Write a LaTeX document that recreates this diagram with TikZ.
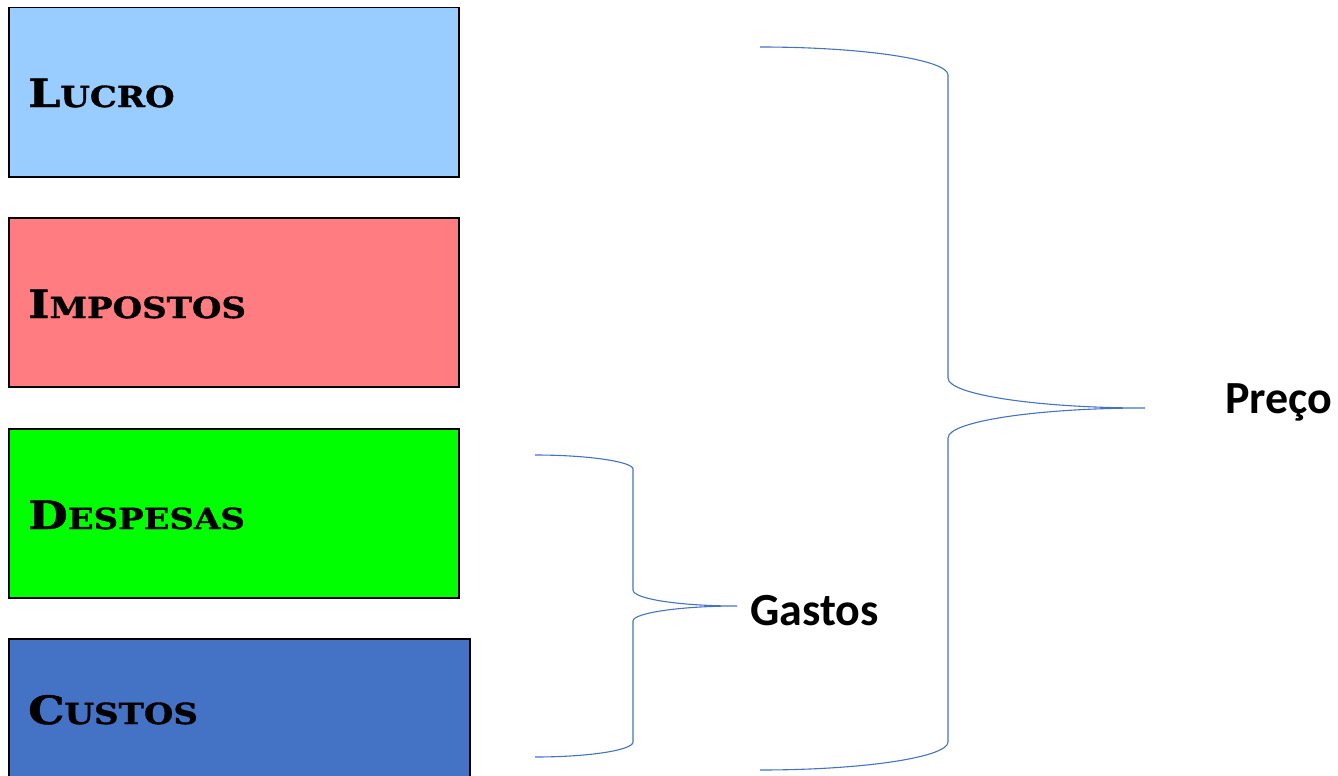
\documentclass[tikz,border=0pt]{standalone}
\usepackage{fontspec}
\setmainfont{DejaVu Serif}
\newfontfamily\capsfont{DejaVu Serif}[BoldFont={DejaVu Serif Bold}, BoldFeatures={FakeStretch=1.17, FakeBold=1.2}, FakeStretch=1.17]
\newfontfamily\calib{Carlito}
\newcommand{\cpc}[2]{{\capsfont\bfseries\fontsize{39}{39}\selectfont #1\fontsize{29}{29}\selectfont #2}}
\definecolor{clucro}{HTML}{99CCFF}
\definecolor{cimp}{HTML}{FF7C80}
\definecolor{cdesp}{HTML}{00FF00}
\definecolor{ccust}{HTML}{4472C4}
\definecolor{cbrace}{HTML}{4472C4}
\begin{document}
\begin{tikzpicture}[x=1pt,y=-1pt,
  box/.style={draw=black, line width=1.5pt, anchor=north west, inner sep=0pt, minimum width=450pt, minimum height=169pt},
  lbl/.style={anchor=base west, inner sep=0pt},
  side/.style={anchor=base west, inner sep=0pt, font=\calib\bfseries\fontsize{46}{46}\selectfont},
  brace/.style={draw=cbrace, line width=1.1pt}]
\useasboundingbox (0,0) rectangle (1338,776);
\clip (0,0) rectangle (1338,776);
\node[box, fill=clucro] (lucro) at (8,7) {};
\node[box, fill=cimp] (imp) at (8,217) {};
\node[box, fill=cdesp] (desp) at (8,428) {};
\node[box, fill=ccust, minimum width=461pt, minimum height=150pt] (cust) at (8,638) {};
\node[lbl] (tlucro) at (28,107) {\cpc{L}{UCRO}};
\node[lbl] (timp) at (28,318) {\cpc{I}{MPOSTOS}};
\node[lbl] (tdesp) at (28,529) {\cpc{D}{ESPESAS}};
\node[lbl] (tcust) at (28,724) {\cpc{C}{USTOS}};
\node[side] (gastos) at (750,625) {Gastos};
\node[side] (preco) at (1225,413) {Preço};
% big brace
\coordinate (pa) at (760,47);
\coordinate (pb) at (948,75);
\coordinate (pc) at (948,378);
\coordinate (pt) at (1145,408);
\coordinate (pd) at (948,438);
\coordinate (pe) at (948,742);
\coordinate (pf) at (760,770);
\draw[brace] (pa) .. controls (865,47) and (948,60) .. (pb) -- (pc)
  .. controls (948,395) and (1040,408) .. (pt)
  .. controls (1040,408) and (948,421) .. (pd) -- (pe)
  .. controls (948,757) and (865,770) .. (pf);
% small brace
\coordinate (ga) at (535,455);
\coordinate (gb) at (633,469);
\coordinate (gc) at (633,590);
\coordinate (gt) at (737,606);
\coordinate (gd) at (633,621);
\coordinate (ge) at (633,742);
\coordinate (gf) at (535,757);
\draw[brace] (ga) .. controls (590,455) and (633,462) .. (gb) -- (gc)
  .. controls (633,599) and (680,606) .. (gt)
  .. controls (680,606) and (633,613) .. (gd) -- (ge)
  .. controls (633,750) and (590,757) .. (gf);
\end{tikzpicture}
\end{document}
